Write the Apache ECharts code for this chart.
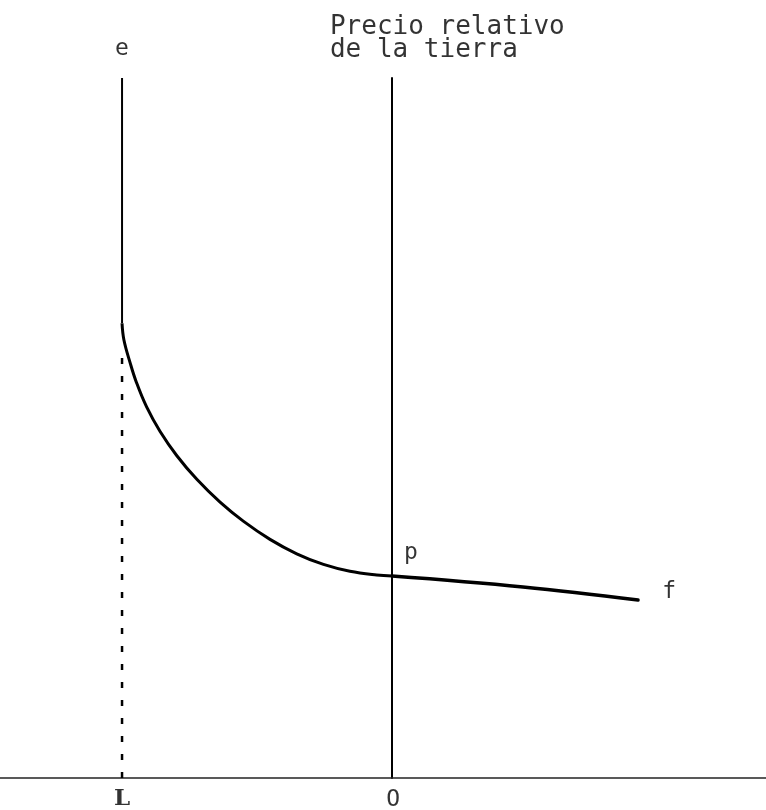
<!DOCTYPE html>
<html>
<head>
<meta charset="utf-8">
<script src="https://cdn.jsdelivr.net/npm/echarts@6/dist/echarts.min.js"></script>
<style>
  html, body { margin: 0; padding: 0; background: #fff; }
  #chart { width: 766px; height: 810px; }
</style>
</head>
<body>
<div id="chart"></div>
<script>
// eje horizontal: O en 0, L en -10
const xRange = [-14.52, 13.85];
const yRange = [0, 100];

// recta vertical en L (parte sólida por encima de la curva)
const eLine = [[-10, 100], [-10, 65.0]];
// proyección punteada de L
const dashLine = [[-10, 60], [-10, 0]];

// curva e-p
const curveX = [-10, -9.93, -9.70, -9.46, -9.09, -8.59, -7.97, -7.23, -6.37, -5.51, -4.52, -3.53, -2.54, -1.56, -0.57, 0];
const curveY = [64.96, 62.57, 59.31, 56.44, 53.01, 49.5, 46.04, 42.67, 39.41, 36.69, 34.09, 32.03, 30.51, 29.53, 29.0, 28.86];

// tramo p-f
const flatX = [0, 4.85, 9.11];
const flatY = [28.86, 27.3, 25.43];

// rótulos
const labelText = ["e", "p", "f", "O"];
const labelX = [-10, 0.70, 10.26, 0.04];
const labelY = [104.2, 32.1, 26.6, -3.1];
const boldText = "L";
const boldPos = [-10, -3];

const titleText = "Precio relativo\nde la tierra";
const titlePos = [-2.3, 105.6];

const ink = "#000";
const font = "'DejaVu Sans Mono', monospace";

const chart = echarts.init(document.getElementById("chart"));

const zip = (xs, ys) => xs.map((x, i) => [x, ys[i]]);

const option = {
  backgroundColor: "#fff",
  animation: false,
  grid: { left: 0, right: 0, top: 78, bottom: 32 },
  xAxis: {
    type: "value",
    min: xRange[0],
    max: xRange[1],
    axisLine: { show: true, onZero: true, lineStyle: { color: "#222", width: 1.5 } },
    axisTick: { show: false },
    axisLabel: { show: false },
    splitLine: { show: false }
  },
  yAxis: {
    type: "value",
    min: yRange[0],
    max: yRange[1],
    axisLine: { show: true, onZero: true, lineStyle: { color: ink, width: 2 } },
    axisTick: { show: false },
    axisLabel: { show: false },
    splitLine: { show: false }
  },
  series: [
    {
      type: "line",
      data: eLine,
      symbol: "none",
      lineStyle: { color: ink, width: 2 }
    },
    {
      type: "line",
      data: dashLine,
      symbol: "none",
      lineStyle: { color: ink, width: 2.5, type: [6, 12] }
    },
    {
      type: "line",
      data: zip(curveX, curveY),
      smooth: 0.4,
      symbol: "none",
      lineStyle: { color: ink, width: 3 }
    },
    {
      type: "line",
      data: zip(flatX, flatY),
      smooth: 0.4,
      symbol: "none",
      lineStyle: { color: ink, width: 3.5, cap: "round" }
    },
    {
      type: "scatter",
      clip: false,
      symbolSize: 0,
      data: labelText.map((t, i) => ({ value: [labelX[i], labelY[i]], name: t })),
      label: {
        show: true,
        position: "inside",
        formatter: p => p.name,
        color: ink,
        fontFamily: font,
        fontSize: 23
      },
      emphasis: { disabled: true }
    },
    {
      type: "scatter",
      clip: false,
      symbolSize: 0,
      data: [{ value: boldPos, name: boldText }],
      label: {
        show: true,
        position: "inside",
        formatter: p => p.name,
        color: ink,
        fontFamily: "'DejaVu Serif', serif",
        fontWeight: "bold",
        fontSize: 23
      },
      emphasis: { disabled: true }
    },
    {
      type: "scatter",
      clip: false,
      symbolSize: 0,
      data: [{ value: titlePos, name: titleText }],
      label: {
        show: true,
        position: "right",
        distance: 0,
        formatter: p => p.name,
        color: ink,
        fontFamily: font,
        fontSize: 26,
        lineHeight: 23
      },
      emphasis: { disabled: true }
    }
  ]
};

chart.setOption(option);
</script>
</body>
</html>
